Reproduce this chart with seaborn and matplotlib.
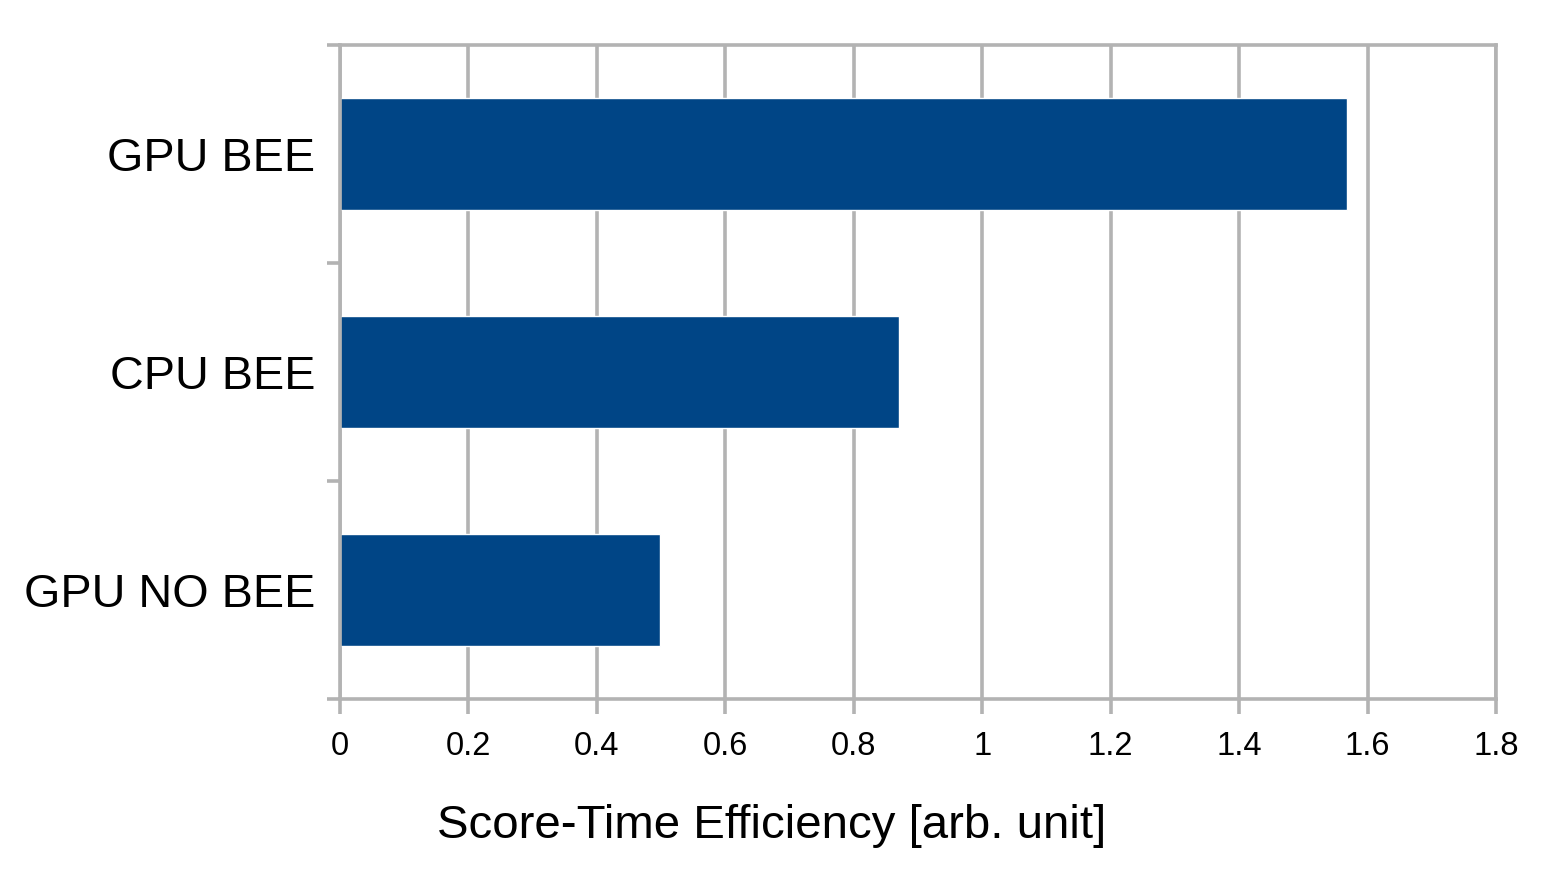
import numpy as np
import pandas as pd
import matplotlib.pyplot as plt
import seaborn as sns

# values
methods = ['GPU BEE', 'CPU BEE', 'GPU NO BEE']
efficiency = [1.568, 0.870, 0.498]
xticks = [0, 0.2, 0.4, 0.6, 0.8, 1, 1.2, 1.4, 1.6, 1.8]
xtick_labels = ['0', '0.2', '0.4', '0.6', '0.8', '1', '1.2', '1.4', '1.6', '1.8']

df = pd.DataFrame({'method': methods, 'value': efficiency})

sns.set_style('white')
plt.rcParams['font.family'] = ['Liberation Sans', 'DejaVu Sans']
plt.rcParams['text.color'] = 'black'
plt.rcParams['xtick.labelcolor'] = 'black'
plt.rcParams['ytick.labelcolor'] = 'black'
plt.rcParams['axes.labelcolor'] = 'black'

grey = '#b3b3b3'
lw = 2.6

fig = plt.figure(figsize=(15.53, 8.73), dpi=100)
ax = fig.add_axes([340 / 1553, 1 - 699 / 873, (1496 - 340) / 1553, (699 - 45) / 873])

ax.set_axisbelow(True)
sns.barplot(data=df, x='value', y='method', orient='h', color='#004586',
            saturation=1, width=0.51, ax=ax)

ax.set_xlim(0, 1.8)
ax.set_ylim(2.5, -0.5)
ax.set_xticks(xticks)
ax.set_xticklabels(xtick_labels)
ax.xaxis.grid(True, color=grey, linewidth=lw)
ax.yaxis.grid(False)

for s in ax.spines.values():
    s.set_color(grey)
    s.set_linewidth(lw)
    s.set_visible(True)

ax.tick_params(axis='x', which='major', length=11, width=lw, color=grey,
               labelsize=23.5, pad=12, direction='out', bottom=True)
ax.tick_params(axis='y', which='major', length=0, labelsize=33.7, pad=18)
ax.set_yticks([-0.5, 0.5, 1.5, 2.5], minor=True)
ax.tick_params(axis='y', which='minor', length=9.5, width=lw, color=grey,
               direction='out', left=True)

ax.set_ylabel('')
ax.set_xlabel('Score-Time Efficiency [arb. unit]', fontsize=34.1)
ax.xaxis.set_label_coords(0.373, -0.16)

plt.savefig('out.png', dpi=100)
